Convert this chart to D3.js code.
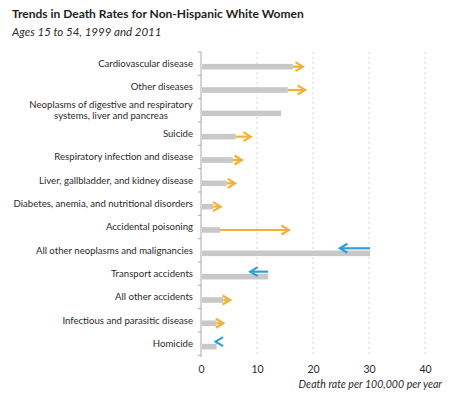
<!DOCTYPE html>
<html>
<head>
<meta charset="utf-8">
<script src="https://cdn.jsdelivr.net/npm/d3@7"></script>
<style>
  body { margin: 0; background: #fff; }
  text { font-family: Lato, "Open Sans", sans-serif; fill: #2a2a2a; }
</style>
</head>
<body>
<div id="chart"></div>
<script>
// causes of death, top to bottom
var causes = [
  "Cardiovascular disease",
  "Other diseases",
  "Neoplasms of digestive and respiratory|systems, liver and pancreas",
  "Suicide",
  "Respiratory infection and disease",
  "Liver, gallbladder, and kidney disease",
  "Diabetes, anemia, and nutritional disorders",
  "Accidental poisoning",
  "All other neoplasms and malignancies",
  "Transport accidents",
  "All other accidents",
  "Infectious and parasitic disease",
  "Homicide"
];
var rate1999 = [16.4, 15.5, 14.3, 6.2, 5.7, 4.6, 2.2, 3.4, 30.2, 12.0, 4.0, 2.8, 2.8];
var rate2011 = [18.2, 18.6, 14.3, 8.9, 7.3, 6.1, 3.5, 15.7, 24.8, 8.8, 5.2, 4.0, 2.6];
var xTicks = [0, 10, 20, 30, 40];

var width = 462, height = 399;
var svg = d3.select("#chart").append("svg")
  .attr("width", width).attr("height", height);

var x = d3.scaleLinear().domain([0, 40]).range([201, 425]);
var y = d3.scaleBand().domain(d3.range(causes.length)).range([52, 355.3]);

var data = causes.map(function(c, i) {
  return {i: i, name: c, a: rate1999[i], b: rate2011[i]};
});

// title
svg.append("text").attr("x", 12).attr("y", 18)
  .style("font-size", "12px").style("font-weight", "bold").style("fill", "#1e1e1e")
  .text("Trends in Death Rates for Non-Hispanic White Women");
svg.append("text").attr("x", 12).attr("y", 36)
  .style("font-size", "11.5px").style("font-style", "italic")
  .text("Ages 15 to 54, 1999 and 2011");

// grid
svg.append("g").selectAll("line")
  .data(xTicks.slice(1)).enter().append("line")
  .attr("x1", function(d) { return x(d); }).attr("x2", function(d) { return x(d); })
  .attr("y1", 52).attr("y2", 357)
  .attr("stroke", "#d6d6d6").attr("stroke-dasharray", "2,3");

// x axis labels
var xAxis = svg.append("g").attr("transform", "translate(0,357)")
  .call(d3.axisBottom(x).tickValues(xTicks).tickSize(0).tickPadding(9));
xAxis.select(".domain").remove();
xAxis.selectAll("text").style("font-size", "10.5px").style("font-family", "Lato, sans-serif").attr("fill", "#3a3a3a");

svg.append("text").attr("x", 442).attr("y", 388)
  .attr("text-anchor", "end")
  .style("font-size", "10.6px").style("font-style", "italic")
  .text("Death rate per 100,000 per year");

// y axis line + ticks at band edges
var edges = d3.range(causes.length + 1).map(function(k) { return 52 + k * y.step(); });
svg.append("line").attr("x1", 201).attr("x2", 201).attr("y1", 52).attr("y2", 357)
  .attr("stroke", "#aaa");
svg.append("g").selectAll("line").data(edges).enter().append("line")
  .attr("x1", 198).attr("x2", 201)
  .attr("y1", function(d) { return d; }).attr("y2", function(d) { return d; })
  .attr("stroke", "#aaa");

// category labels
var labels = svg.append("g").selectAll("text").data(data).enter().append("text")
  .style("font-size", "9.6px")
  .attr("text-anchor", function(d) { return d.name.indexOf("|") >= 0 ? "middle" : "end"; })
  .attr("x", function(d) { return d.name.indexOf("|") >= 0 ? 111 : 193; })
  .attr("y", function(d) { return y(d.i) + y.bandwidth() / 2; })
  .attr("dy", "0.35em");
labels.each(function(d) {
  var parts = d.name.split("|");
  var t = d3.select(this);
  if (parts.length == 1) { t.text(d.name); return; }
  t.attr("dy", null);
  t.append("tspan").attr("x", 111).attr("dy", "-0.25em").text(parts[0]);
  t.append("tspan").attr("x", 111).attr("dy", "1.2em").text(parts[1]);
});

// 1999 bars
svg.append("g").selectAll("rect").data(data).enter().append("rect")
  .attr("x", x(0) + 1)
  .attr("y", function(d) { return y(d.i) + y.bandwidth() / 2 + 0.2; })
  .attr("width", function(d) { return x(d.a) - x(0) - 1; })
  .attr("height", 5.6)
  .attr("fill", "#c8c8c8");

// change arrows
var moved = data.filter(function(d) { return d.a != d.b; });
var ay = function(d) {
  var c = y(d.i) + y.bandwidth() / 2;
  return d.b > d.a ? c + 3 : c - 2;
};
var col = function(d) { return d.b > d.a ? "#f2b134" : "#2d9fd9"; };

var arrows = svg.append("g").selectAll("g").data(moved).enter().append("g")
  .attr("fill", "none")
  .attr("stroke", col)
  .attr("stroke-width", 2.2);
arrows.append("line")
  .attr("x1", function(d) { return x(d.a); })
  .attr("x2", function(d) { return x(d.b) - (d.b > d.a ? 1 : -1); })
  .attr("y1", ay).attr("y2", ay);
arrows.append("path")
  .attr("d", function(d) {
    var tip = x(d.b), dir = d.b > d.a ? 1 : -1, yy = ay(d);
    return "M" + (tip - dir * 7.5) + "," + (yy - 4.5) + "L" + tip + "," + yy + "L" + (tip - dir * 7.5) + "," + (yy + 4.5);
  });
</script>
</body>
</html>
